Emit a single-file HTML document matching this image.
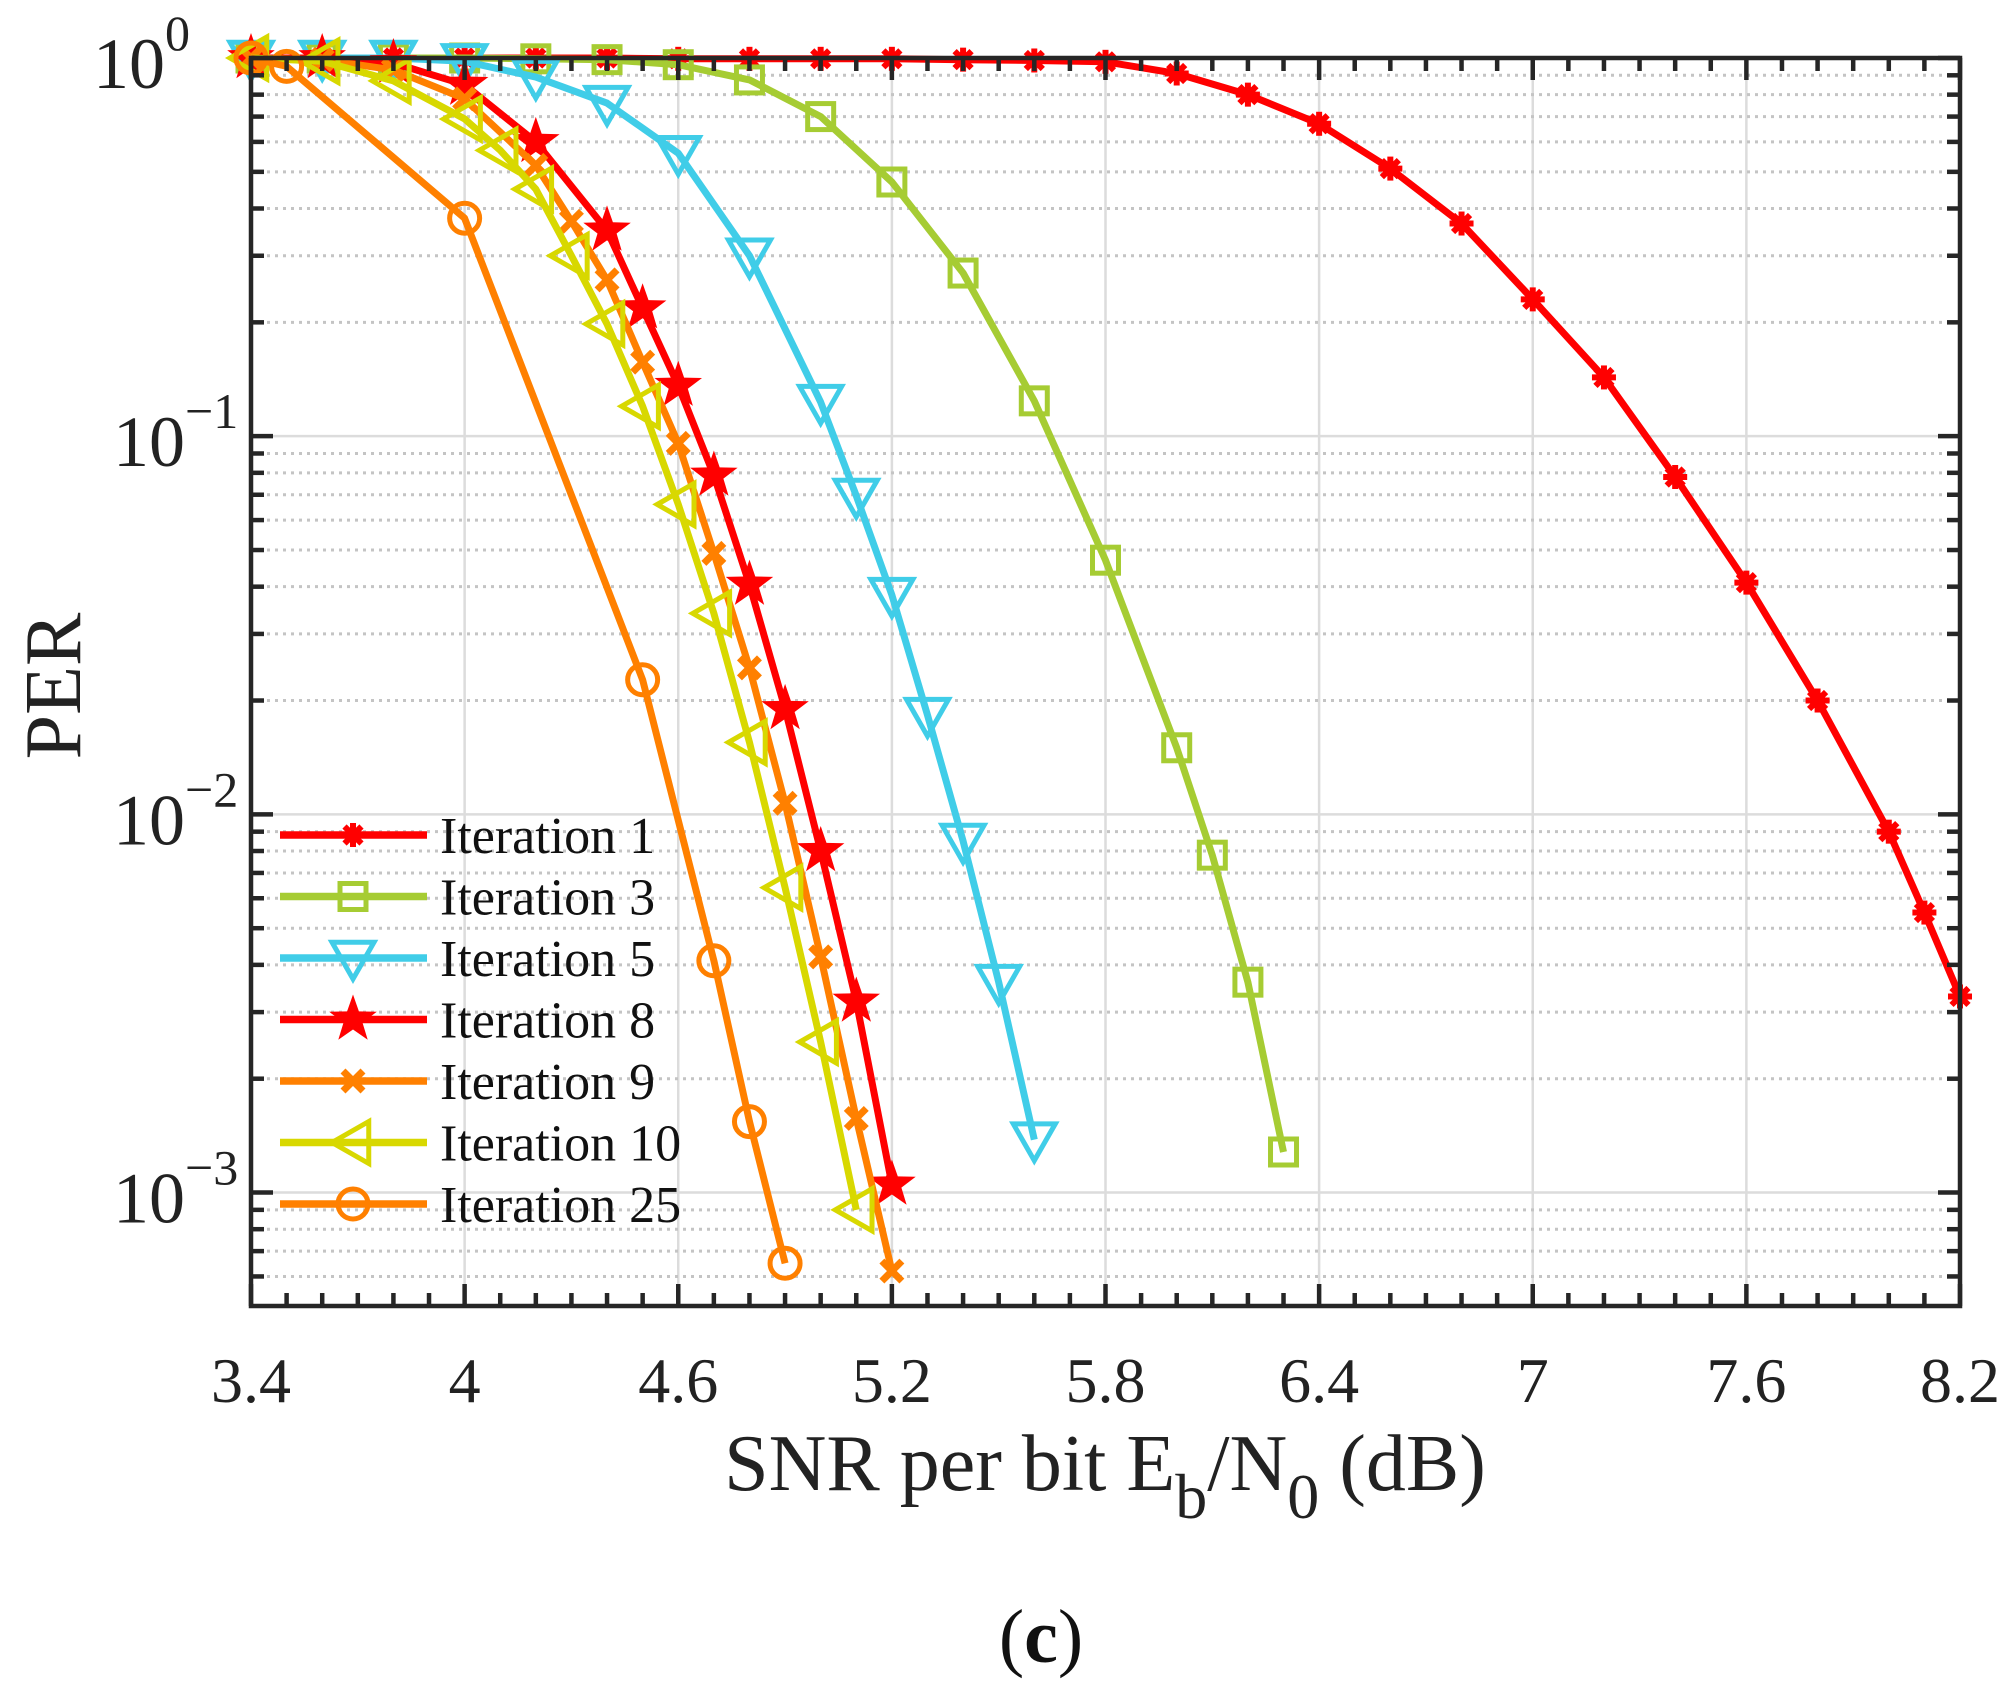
<!DOCTYPE html>
<html><head><meta charset="utf-8"><style>
html,body{margin:0;padding:0;background:#fff;}
svg{display:block;font-family:"Liberation Serif",serif;}
</style></head><body>
<svg id="chart" width="2011" height="1704" viewBox="0 0 2011 1704" xmlns="http://www.w3.org/2000/svg">
<g id="grid"></g>
<g id="series"></g>
<g id="axes"></g>
<g id="legend"></g>
<text x="0" y="0" transform="translate(80,686) rotate(-90)" text-anchor="middle" font-size="80" fill="#222">PER</text>
<text x="1105" y="1490" text-anchor="middle" font-size="80" fill="#222">SNR per bit E<tspan dy="28" font-size="64">b</tspan><tspan dy="-28">/N</tspan><tspan dy="28" font-size="64">0</tspan><tspan dy="-28"> (dB)</tspan></text>
<text x="1041" y="1662" text-anchor="middle" font-size="76" fill="#111">(<tspan font-weight="bold">c</tspan>)</text>
</svg>
<script>
const xTicks = [3.4, 4, 4.6, 5.2, 5.8, 6.4, 7, 7.6, 8.2];
const yDecades = [0, -1, -2, -3];
const x1 = [3.4,3.6,3.8,4.0,4.2,4.4,4.6,4.8,5.0,5.2,5.4,5.6,5.8,6.0,6.2,6.4,6.6,6.8,7.0,7.2,7.4,7.6,7.8,8.0,8.1,8.2];
const y1 = [1,1,1,1,1,1,0.995,0.995,0.995,0.995,0.99,0.985,0.977,0.91,0.80,0.67,0.51,0.365,0.23,0.143,0.078,0.041,0.020,0.0090,0.0055,0.0033];
const x3 = [3.4,3.6,3.8,4.0,4.2,4.4,4.6,4.8,5.0,5.2,5.4,5.6,5.8,6.0,6.1,6.2,6.3];
const y3 = [1,1,1,1,0.995,0.99,0.96,0.875,0.70,0.47,0.27,0.124,0.047,0.015,0.0078,0.0036,0.00128];
const x5 = [3.4,3.6,3.8,4.0,4.2,4.4,4.6,4.8,5.0,5.1,5.2,5.3,5.4,5.5,5.6];
const y5 = [1,1,1,0.98,0.89,0.76,0.56,0.30,0.123,0.0695,0.038,0.0183,0.0085,0.0036,0.00138];
const x8 = [3.4,3.6,3.8,4.0,4.2,4.4,4.5,4.6,4.7,4.8,4.9,5.0,5.1,5.2];
const y8 = [1,1,0.97,0.85,0.60,0.35,0.218,0.136,0.0787,0.0405,0.019,0.0080,0.0032,0.00105];
const x9 = [3.4,3.6,3.8,4.0,4.2,4.3,4.4,4.5,4.6,4.7,4.8,4.9,5.0,5.1,5.2];
const y9 = [1,0.99,0.93,0.78,0.52,0.37,0.259,0.157,0.0957,0.049,0.0244,0.0107,0.0042,0.00157,0.00062];
const x10 = [3.4,3.6,3.8,4.0,4.1,4.2,4.3,4.4,4.5,4.6,4.7,4.8,4.9,5.0,5.1];
const y10 = [1,0.98,0.87,0.69,0.57,0.45,0.30,0.198,0.12,0.066,0.034,0.0155,0.0064,0.0025,0.0009];
const x25 = [3.4,3.5,4.0,4.5,4.7,4.8,4.9];
const y25 = [1,0.95,0.377,0.0227,0.0041,0.00154,0.00065];
const seriesNames = ["Iteration 1","Iteration 3","Iteration 5","Iteration 8","Iteration 9","Iteration 10","Iteration 25"];

const L=251,R=1960,T=58,B=1306;
const XMIN=3.4,XMAX=8.2,YMINLOG=-3.3,YMAXLOG=0;
const sx=v=>L+(v-XMIN)/(XMAX-XMIN)*(R-L);
const sy=v=>T+(YMAXLOG-Math.log10(v))/(YMAXLOG-YMINLOG)*(B-T);
const NS="http://www.w3.org/2000/svg";
function mk(tag,attrs,parent){const e=document.createElementNS(NS,tag);for(const k in attrs)e.setAttribute(k,attrs[k]);parent.appendChild(e);return e;}
const grid=document.getElementById('grid'),axes=document.getElementById('axes'),ser=document.getElementById('series'),leg=document.getElementById('legend');

xTicks.forEach(t=>{const l=mk('line',{x1:sx(t),x2:sx(t),y1:T,y2:B,stroke:'#dcdcdc','stroke-width':2.5},grid);

});
for(let d=-4;d<=0;d++){
  for(let m=1;m<=9;m++){const v=m*Math.pow(10,d);const lv=Math.log10(v);if(lv<YMINLOG||lv>YMAXLOG)continue;
    const y=sy(v);
    const l=mk('line',{x1:L,x2:R,y1:y,y2:y,stroke:m===1?'#dcdcdc':'#c4c4c4','stroke-width':m===1?2.5:3,'stroke-dasharray':m===1?'':'3,5'},grid);
    
    
    const tl=m===1?22:13;
    const a=mk('line',{x1:L,x2:L+tl,y1:y,y2:y,stroke:'#262626','stroke-width':4.5},axes);
    
    
    const b=mk('line',{x1:R,x2:R-tl,y1:y,y2:y,stroke:'#262626','stroke-width':4.5},axes);
    
    
  }
}
for(let i=0;i<=48;i++){const v=XMIN+i*0.1;const x=sx(v);const major=i%6===0;const tl=major?22:13;
  const a=mk('line',{x1:x,x2:x,y1:B,y2:B-tl,stroke:'#262626','stroke-width':4.5},axes);
  
  
  const b=mk('line',{x1:x,x2:x,y1:T,y2:T+tl,stroke:'#262626','stroke-width':4.5},axes);
  
  
}
const box=mk('rect',{x:L,y:T,width:R-L,height:B-T,fill:'none',stroke:'#262626','stroke-width':4.5},axes);


xTicks.forEach(t=>{const e=mk('text',{x:sx(t),y:1402,'text-anchor':'middle','font-size':64,fill:'#222'},axes);e.textContent=String(t);

});
yDecades.forEach(d=>{const y=sy(Math.pow(10,d));const e=mk('text',{x:d===0?190:113,y:y+30,'text-anchor':d===0?'end':'start','font-size':72,fill:'#222'},axes);
e.textContent='10';const s=mk('tspan',{dy:-38,'font-size':50},e);s.textContent=d===0?'0':('\u2212'+String(-d));

});

function marker(kind,x,y,c,g){
  const sw=5;
  if(kind==='ast'){const r=12;const gg=mk('g',{},g);
    for(let k=0;k<4;k++){const a=k*Math.PI/4;mk('line',{x1:x-r*Math.cos(a),y1:y-r*Math.sin(a),x2:x+r*Math.cos(a),y2:y+r*Math.sin(a),stroke:c,'stroke-width':6},gg);}
    mk('circle',{cx:x,cy:y,r:8,fill:c},gg);return gg;}
  if(kind==='sq'){return mk('rect',{x:x-13,y:y-13,width:26,height:26,fill:'none',stroke:c,'stroke-width':sw},g);}
  if(kind==='dtri'){const r=21;return mk('polygon',{points:`${x-r},${y-r*0.75} ${x+r},${y-r*0.75} ${x},${y+r}`,fill:'none',stroke:c,'stroke-width':sw},g);}
  if(kind==='ltri'){const r=21;return mk('polygon',{points:`${x+r*0.75},${y-r} ${x+r*0.75},${y+r} ${x-r},${y}`,fill:'none',stroke:c,'stroke-width':sw},g);}
  if(kind==='star'){const R1=25,r1=10;let p=[];for(let k=0;k<10;k++){const rr=k%2?r1:R1;const a=-Math.PI/2+k*Math.PI/5;p.push((x+rr*Math.cos(a)).toFixed(1)+','+(y+rr*Math.sin(a)).toFixed(1));}
    return mk('polygon',{points:p.join(' '),fill:c},g);}
  if(kind==='x'){const r=10;const gg=mk('g',{},g);mk('line',{x1:x-r,y1:y-r,x2:x+r,y2:y+r,stroke:c,'stroke-width':7},gg);mk('line',{x1:x-r,y1:y+r,x2:x+r,y2:y-r,stroke:c,'stroke-width':7},gg);return gg;}
  if(kind==='circ'){return mk('circle',{cx:x,cy:y,r:15,fill:'none',stroke:c,'stroke-width':sw},g);}
}
const defs=[
 {xs:x1,ys:y1,c:'#ff0000',m:'ast',key:'iteration-1'},
 {xs:x3,ys:y3,c:'#a6cc33',m:'sq',key:'iteration-3'},
 {xs:x5,ys:y5,c:'#40cde8',m:'dtri',key:'iteration-5'},
 {xs:x8,ys:y8,c:'#ff0000',m:'star',key:'iteration-8'},
 {xs:x9,ys:y9,c:'#ff8000',m:'x',key:'iteration-9'},
 {xs:x10,ys:y10,c:'#d8d800',m:'ltri',key:'iteration-10'},
 {xs:x25,ys:y25,c:'#ff8000',m:'circ',key:'iteration-25'}
];
defs.forEach((d,i)=>{
  const g=mk('g',{},ser);
  
  
  const pts=d.xs.map((v,j)=>sx(v).toFixed(1)+','+sy(d.ys[j]).toFixed(1)).join(' ');
  const pl=mk('polyline',{points:pts,fill:'none',stroke:d.c,'stroke-width':7,'stroke-linejoin':'round'},g);
  
  
  d.xs.forEach((v,j)=>{const mm=marker(d.m,sx(v),sy(d.ys[j]),d.c,g);
    
    });
  const ly=835+i*61.5;
  const lg=mk('g',{},leg);
  
  
  mk('line',{x1:280,x2:427,y1:ly,y2:ly,stroke:d.c,'stroke-width':7.5},lg);
  marker(d.m,353,ly,d.c,lg);
  const t=mk('text',{x:440,y:ly+18,'font-size':52,fill:'#111'},lg);t.textContent=seriesNames[i];
});
</script>
</body></html>
